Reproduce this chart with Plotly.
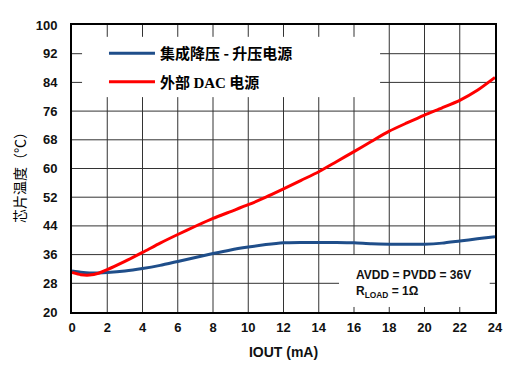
import plotly.graph_objects as go

iout = [0, 0.5, 1, 1.5, 2, 3, 4, 5, 6, 7, 8, 9, 10, 11, 12, 13, 14, 15, 16, 17, 18, 19, 20, 21, 22, 23, 24]
temp_buckboost = [31.4, 31.1, 30.9, 30.9, 31.0, 31.4, 32.1, 33.0, 34.1, 35.2, 36.3, 37.3, 38.1, 38.8, 39.3, 39.4,
                  39.4, 39.4, 39.3, 39.0, 38.9, 38.9, 38.9, 39.2, 39.8, 40.4, 41.0]
temp_dac = [31.0, 30.4, 30.3, 30.8, 31.8, 34.1, 36.6, 39.2, 41.6, 43.9, 46.1, 48.0, 49.9, 52.0, 54.3, 56.7,
            59.1, 61.9, 64.7, 67.6, 70.4, 72.7, 74.9, 76.9, 79.0, 81.8, 85.4]
series_names = ["集成降压 - 升压电源", "外部 <span style='font-family:Liberation Serif'>DAC</span> 电源"]
x_ticks = list(range(0, 25, 2))
y_ticks = list(range(20, 101, 8))

X_RANGE = [0, 24]
Y_RANGE = [20, 100]
# blank panels (x0, x1, y0, y1) where the grid is interrupted: legend area and note area
blank_panels = [(0.57, 17.48, 79.9, 96.7), (15.15, 23.7, 21.4, 35.9)]

BLUE = "#1f4e8a"
RED = "#ff0000"
GRID = "#333333"
TICKFONT = dict(family="Liberation Sans, Arial", size=13, color="#111111", weight="bold")


def open_segments(lo, hi, cuts):
    segs = [(lo, hi)]
    for c0, c1 in cuts:
        nxt = []
        for a, b in segs:
            if c1 <= a or c0 >= b:
                nxt.append((a, b))
            else:
                if c0 > a:
                    nxt.append((a, c0))
                if c1 < b:
                    nxt.append((c1, b))
        segs = nxt
    return segs


grid_x, grid_y = [], []
for t in x_ticks[1:-1]:
    cuts = [(p[2], p[3]) for p in blank_panels if p[0] < t < p[1]]
    for a, b in open_segments(Y_RANGE[0], Y_RANGE[1], cuts):
        grid_x += [t, t, None]
        grid_y += [a, b, None]
for t in y_ticks[1:-1]:
    cuts = [(p[0], p[1]) for p in blank_panels if p[2] < t < p[3]]
    for a, b in open_segments(X_RANGE[0], X_RANGE[1], cuts):
        grid_x += [a, b, None]
        grid_y += [t, t, None]

fig = go.Figure()
fig.add_trace(go.Scatter(x=grid_x, y=grid_y, mode="lines", line=dict(color=GRID, width=1),
                         hoverinfo="skip", showlegend=False, connectgaps=False))
fig.add_trace(go.Scatter(x=iout, y=temp_buckboost, mode="lines", name=series_names[0], legendgroup="a",
                         line=dict(color=BLUE, width=3, shape="spline", smoothing=0.6)))
fig.add_trace(go.Scatter(x=iout, y=temp_dac, mode="lines", name=series_names[1], legendgroup="b",
                         line=dict(color=RED, width=3, shape="spline", smoothing=0.6)))

fig.add_annotation(xref="x", yref="y", x=16.0, y=30.3, xanchor="left", yanchor="middle",
                   text="AVDD = PVDD = 36V", showarrow=False,
                   font=dict(family="Liberation Sans, Arial", size=12, color="#111111", weight="bold"))
fig.add_annotation(xref="x", yref="y", x=16.0, y=25.6, xanchor="left", yanchor="middle",
                   text="R<sub>LOAD</sub> = 1Ω", showarrow=False,
                   font=dict(family="Liberation Sans, Arial", size=12, color="#111111", weight="bold"))

# y-axis title
fig.add_annotation(xref="paper", yref="paper", x=-0.125, y=0.481, xanchor="center", yanchor="middle",
                   text="芯片温度（℃）", textangle=-90, showarrow=False,
                   font=dict(family="Noto Sans CJK SC", size=14, color="#000000"))

fig.update_layout(
    template="none",
    width=524, height=364,
    margin=dict(l=64, r=37, t=17, b=60),
    paper_bgcolor="white", plot_bgcolor="white",
    showlegend=True,
    legend=dict(x=0.0236, y=0.958, xanchor="left", yanchor="top", bgcolor="rgba(0,0,0,0)", borderwidth=0,
                font=dict(family="Noto Sans CJK SC", size=15, color="#000000", weight="bold"),
                indentation=22, itemwidth=46,
                tracegroupgap=6, traceorder="grouped"),
    xaxis=dict(range=X_RANGE, tickmode="array", tickvals=x_ticks, ticktext=[str(v) for v in x_ticks],
               showgrid=False, zeroline=False,
               showline=True, linecolor="#000000", linewidth=2, mirror=True,
               ticks="outside", ticklen=2, tickcolor="rgba(0,0,0,0)", tickfont=TICKFONT,
               title=dict(text="IOUT (mA)", standoff=14,
                          font=dict(family="Liberation Sans, Arial", size=14, color="#111111", weight="bold"))),
    yaxis=dict(range=Y_RANGE, tickmode="array", tickvals=y_ticks, ticktext=[str(v) for v in y_ticks],
               showgrid=False, zeroline=False,
               showline=True, linecolor="#000000", linewidth=2, mirror=True,
               ticks="outside", ticklen=10, tickcolor="rgba(0,0,0,0)", tickfont=TICKFONT),
)

fig.write_html("out.html")
